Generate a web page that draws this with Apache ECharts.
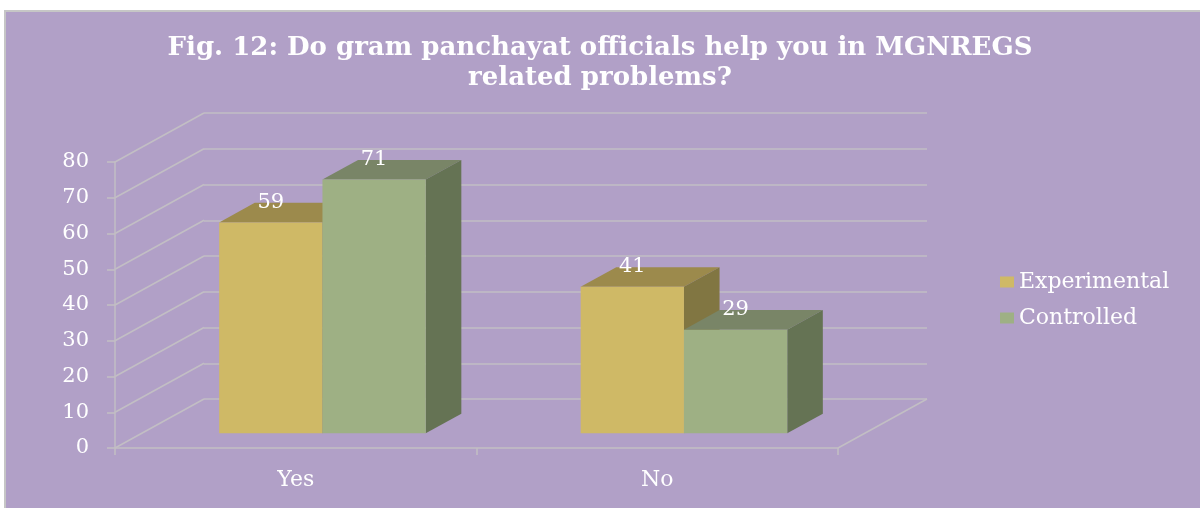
<!DOCTYPE html>
<html>
<head>
<meta charset="utf-8">
<script src="https://cdn.jsdelivr.net/npm/echarts@6/dist/echarts.min.js"></script>
<style>
html,body{margin:0;padding:0;background:#ffffff;}
#frame{position:absolute;left:4px;top:10px;width:1194px;height:498px;background:#B1A0C7;border-left:2px solid #C6C6C6;border-top:2px solid #C6C6C6;}
#chart{position:absolute;left:0;top:0;width:1200px;height:508px;}
</style>
</head>
<body>
<div id="frame"></div>
<div id="chart"></div>
<script>
// ---- data ----
const titleText = 'Fig. 12: Do gram panchayat officials help you in MGNREGS\nrelated problems?';
const categories = ['Yes', 'No'];
const seriesNames = ['Experimental', 'Controlled'];
const experimental = [59, 41];
const controlled = [71, 29];
const yMin = 0, yMax = 80, yInterval = 10;
const yTickValues = [0, 10, 20, 30, 40, 50, 60, 70, 80];

// ---- style / layout ----
const FONT = '"DejaVu Serif", "Liberation Serif", serif';
const GRID_COLOR = '#C2BEC4';
const DEPTH = { x: 89, y: -49 };   // 3D depth offset of the back wall
const D0 = 0.3, D1 = 0.7;          // bar depth range (fraction of depth)
const GAP = 1.5;                   // gap width relative to bar width
const FRONT = { left: 115, right: 362, top: 162, bottom: 60 };
const BACK = { left: FRONT.left + DEPTH.x, right: FRONT.right - DEPTH.x, top: FRONT.top + DEPTH.y, bottom: FRONT.bottom - DEPTH.y };
const COLORS = [
  { front: '#CFB966', top: '#9C8A4C', side: '#817642' },
  { front: '#9EB084', top: '#798567', side: '#657354' }
];

function barRenderer(sIdx) {
  return function (params, api) {
    const cat = api.value(0), val = api.value(1);
    const base = api.coord([cat, 0]);
    const topP = api.coord([cat, val]);
    const catW = api.size([1, 0])[0];
    const barW = catW / (2 + GAP);
    const x0 = base[0] - barW + sIdx * barW + DEPTH.x * D0;
    const x1 = x0 + barW;
    const yb = base[1] + DEPTH.y * D0;
    const yt = topP[1] + DEPTH.y * D0;
    const dx = DEPTH.x * (D1 - D0), dy = DEPTH.y * (D1 - D0);
    const c = COLORS[sIdx];
    return {
      type: 'group',
      children: [
        { type: 'polygon', shape: { points: [[x0, yt], [x1, yt], [x1 + dx, yt + dy], [x0 + dx, yt + dy]] }, style: { fill: c.top } },
        { type: 'polygon', shape: { points: [[x1, yt], [x1 + dx, yt + dy], [x1 + dx, yb + dy], [x1, yb]] }, style: { fill: c.side } },
        { type: 'rect', shape: { x: x0, y: yt, width: barW, height: yb - yt }, style: { fill: c.front } },
        { type: 'text', z2: 10, style: { text: String(val), x: (x0 + x1) / 2, y: yt - 20, align: 'center', verticalAlign: 'middle', fill: '#ffffff', fontFamily: FONT, fontSize: 21 } }
      ]
    };
  };
}

function wallRenderer(params, api) {
  const v = api.value(0);
  const cs = params.coordSys;
  const y = api.coord([0, v])[1];
  const children = [
    { type: 'line', shape: { x1: cs.x, y1: y, x2: cs.x + DEPTH.x, y2: y + DEPTH.y }, style: { stroke: GRID_COLOR, lineWidth: 1.5 } }
  ];
  if (v === yMin) {
    children.push({ type: 'line', shape: { x1: cs.x + cs.width, y1: y, x2: cs.x + cs.width + DEPTH.x, y2: y + DEPTH.y }, style: { stroke: GRID_COLOR, lineWidth: 1.5 } });
  }
  return { type: 'group', children: children };
}

const chart = echarts.init(document.getElementById('chart'), null, { renderer: 'canvas' });
chart.setOption({
  backgroundColor: 'transparent',
  animation: false,
  title: {
    text: titleText,
    left: 'center',
    top: 28,
    textStyle: { color: '#ffffff', fontFamily: FONT, fontWeight: 'bold', fontSize: 26, lineHeight: 30 }
  },
  legend: {
    orient: 'vertical',
    left: 995,
    top: 266,
    itemWidth: 14,
    itemHeight: 11,
    itemGap: 14,
    icon: 'rect',
    data: seriesNames,
    textStyle: { color: '#ffffff', fontFamily: FONT, fontSize: 22, lineHeight: 22 }
  },
  grid: [
    { left: FRONT.left, right: FRONT.right, top: FRONT.top, bottom: FRONT.bottom },
    { left: BACK.left, right: BACK.right, top: BACK.top, bottom: BACK.bottom }
  ],
  xAxis: [
    {
      gridIndex: 0, type: 'category', data: categories, boundaryGap: true,
      axisLine: { show: true, lineStyle: { color: GRID_COLOR, width: 1.5 } },
      axisTick: { show: true, length: 7, alignWithLabel: false, lineStyle: { color: GRID_COLOR, width: 1.5 } },
      axisLabel: { color: '#ffffff', fontFamily: FONT, fontSize: 22, margin: 21 },
      splitLine: { show: false }
    },
    { gridIndex: 1, type: 'value', min: 0, max: 1, show: false }
  ],
  yAxis: [
    {
      gridIndex: 0, type: 'value', min: yMin, max: yMax, interval: yInterval,
      axisLine: { show: true, lineStyle: { color: GRID_COLOR, width: 1.5 } },
      axisTick: { show: true, length: 8, lineStyle: { color: GRID_COLOR, width: 1.5 } },
      axisLabel: { color: '#ffffff', fontFamily: FONT, fontSize: 21, margin: 26 },
      splitLine: { show: false }
    },
    {
      gridIndex: 1, type: 'value', min: yMin, max: yMax, interval: yInterval,
      axisLine: { show: false }, axisTick: { show: false }, axisLabel: { show: false },
      splitLine: { show: true, lineStyle: { color: GRID_COLOR, width: 1.5 } }
    }
  ],
  series: [
    {
      type: 'custom', name: 'wall', xAxisIndex: 0, yAxisIndex: 0, silent: true,
      renderItem: wallRenderer,
      data: yTickValues.map(v => [v]),
      encode: { y: 0 },
      z: 1
    },
    {
      type: 'custom', name: seriesNames[0], xAxisIndex: 0, yAxisIndex: 0,
      itemStyle: { color: COLORS[0].front },
      renderItem: barRenderer(0),
      data: categories.map((c, i) => [i, experimental[i]]),
      encode: { x: 0, y: 1 },
      z: 2
    },
    {
      type: 'custom', name: seriesNames[1], xAxisIndex: 0, yAxisIndex: 0,
      itemStyle: { color: COLORS[1].front },
      renderItem: barRenderer(1),
      data: categories.map((c, i) => [i, controlled[i]]),
      encode: { x: 0, y: 1 },
      z: 3
    }
  ]
});
</script>
</body>
</html>
